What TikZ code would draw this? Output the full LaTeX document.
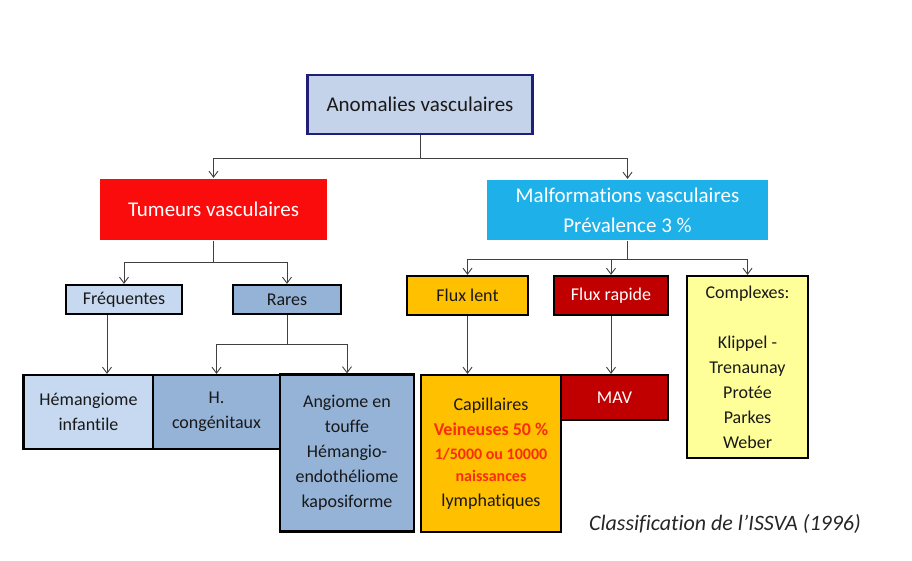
\documentclass[tikz,border=0pt]{standalone}
\usepackage{fontspec}
\setmainfont[Ligatures=NoCommon]{Carlito}
\usepackage{tikz}
\usetikzlibrary{arrows.meta}
\definecolor{navy}{RGB}{31,31,120}
\definecolor{anomfill}{RGB}{197,211,234}
\definecolor{tumred}{RGB}{250,12,12}
\definecolor{malfblue}{RGB}{30,176,232}
\definecolor{paleblue}{RGB}{198,217,241}
\definecolor{midblue}{RGB}{149,179,215}
\definecolor{lentfill}{RGB}{255,192,0}
\definecolor{rapidfill}{RGB}{192,0,0}
\definecolor{cxfill}{RGB}{255,255,153}
\definecolor{redtext}{RGB}{250,45,10}
\definecolor{linegray}{RGB}{64,64,64}
\tikzstyle{box} = [draw=black,line width=2.2pt,inner sep=0pt,align=center,text=black!90,font=\fontsize{18}{25}\selectfont]
\tikzstyle{head} = [box,draw=none,text=white,font=\fontsize{21}{30}\selectfont]
\tikzstyle{conn} = [draw=linegray,line width=0.9pt,-{Straight Barb[length=6pt,width=9pt]}]

\begin{document}
\begin{tikzpicture}[x=1pt,y=-1pt]
    \useasboundingbox (0,0) rectangle (912,560);

    \node[box,draw=navy,fill=anomfill,minimum width=225,minimum height=59,font=\fontsize{21}{30}\selectfont] (AV) at (420,104.5) {Anomalies vasculaires};
    \node[head,fill=tumred,minimum width=227,minimum height=61] (TV) at (213.5,209.5) {Tumeurs vasculaires};
    \node[head,fill=malfblue,minimum width=281,minimum height=60] (MV) at (627.5,210) {Malformations vasculaires\\Prévalence 3 \%};

    \node[box,fill=paleblue,minimum width=116,minimum height=29] (Fr) at (124,299.5) {Fréquentes};
    \node[box,fill=midblue,minimum width=108,minimum height=29] (Ra) at (287,299.5) {Rares};
    \node[box,fill=lentfill,minimum width=121,minimum height=39] (FL) at (467.5,295.5) {Flux lent};
    \node[box,fill=rapidfill,text=white,minimum width=114,minimum height=39] (FR) at (611,295.5) {Flux rapide};
    \node[box,fill=cxfill,minimum width=121,minimum height=182] (Cx) at (747.5,367) {Complexes:\\[25pt]Klippel -\\Trenaunay\\Protée\\Parkes\\Weber};

    \node[box,fill=paleblue,minimum width=130,minimum height=74] (HI) at (88.5,412) {Hémangiome\\infantile};
    \node[box,fill=midblue,minimum width=127,minimum height=74] (HC) at (216.5,412) {H.\\congénitaux};
    \node[box,fill=midblue,minimum width=134,minimum height=157] (AT) at (347,453) {Angiome en\\touffe\\Hémangio-\\endothéliome\\kaposiforme};
    \node[box,fill=lentfill,minimum width=140,minimum height=157] (Cap) at (491,453.5) {Capillaires\\[0pt]{\color{redtext}\bfseries Veineuses 50 \%}\\[-1pt]{\color{redtext}\bfseries\fontsize{16}{21}\selectfont 1/5000 ou 10000}\\[-3pt]{\color{redtext}\bfseries\fontsize{16}{21}\selectfont naissances}\\lymphatiques};
    \node[box,fill=rapidfill,text=white,minimum width=107,minimum height=45] (MAV) at (614.5,397.5) {MAV};

    \node[font=\fontsize{22}{26}\selectfont\itshape,text=black!85] (Cl) at (725,524) {Classification de l’ISSVA (1996)};

    \draw[conn] (AV.south) -- ++(0,23) -| (TV.north);
    \draw[conn] (AV.south) -- ++(0,23) -| (MV.north);
    \draw[conn] (TV.south) -- ++(0,21) -| (Fr.north);
    \draw[conn] (TV.south) -- ++(0,21) -| (Ra.north);
    \draw[conn] (MV.south) -- ++(0,18) -| (FL.north);
    \draw[conn] (MV.south) -- ++(0,18) -| (FR.north);
    \draw[conn] (MV.south) -- ++(0,18) -| (Cx.north);
    \draw[conn] ([xshift=-17pt]Fr.south) -- ([xshift=-17pt]Fr.south |- HI.north);
    \draw[conn] (Ra.south) -- ++(0,29) -| (HC.north);
    \draw[conn] (Ra.south) -- ++(0,29) -| (AT.north);
    \draw[conn] (FL.south) -- (FL.south |- Cap.north);
    \draw[conn] (FR.south) -- (FR.south |- MAV.north);

\end{tikzpicture}
\end{document}
